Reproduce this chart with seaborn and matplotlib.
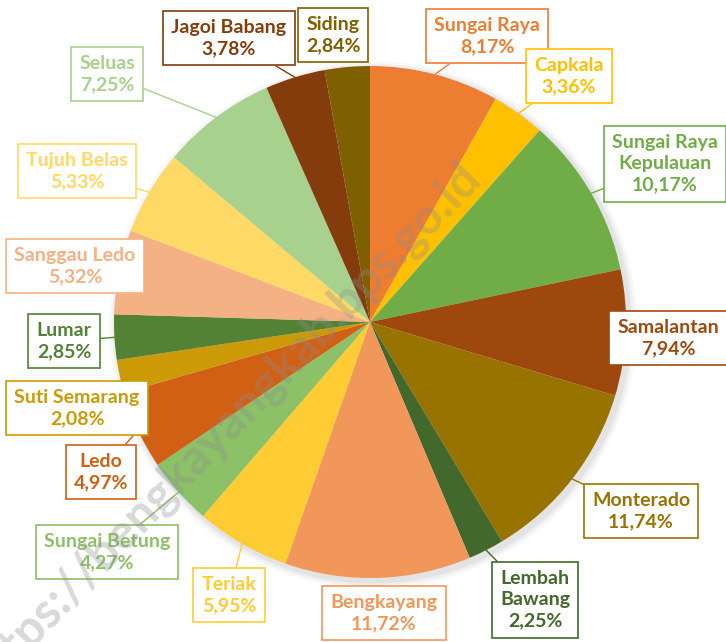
import numpy as np
import seaborn as sns
import matplotlib.pyplot as plt
from matplotlib.patches import Circle

# Data: share of each kecamatan (percent), clockwise from 12 o'clock
districts = ["Sungai Raya", "Capkala", "Sungai Raya\nKepulauan", "Samalantan",
             "Monterado", "Lembah\nBawang", "Bengkayang", "Teriak",
             "Sungai Betung", "Ledo", "Suti Semarang", "Lumar",
             "Sanggau Ledo", "Tujuh Belas", "Seluas", "Jagoi Babang", "Siding"]
shares = [8.17, 3.36, 10.17, 7.94, 11.74, 2.25, 11.72, 5.95,
          4.27, 4.97, 2.08, 2.85, 5.32, 5.33, 7.25, 3.78, 2.84]
colors = ["#ED7D31", "#FFC000", "#70AD47", "#9E480E", "#997300", "#43682B",
          "#F1975A", "#FFCD33", "#8CC168", "#D26014", "#CC9A06", "#548235",
          "#F4B183", "#FFD966", "#A9D18E", "#843C0C", "#7F6000"]

# label box centres in pixels (layout)
label_px = [(487, 36), (569, 76), (665, 164), (668, 338), (641, 511), (535, 600),
            (384, 613), (229, 595), (107, 552), (101, 472), (77, 408), (64, 341),
            (75, 266), (77, 171), (107, 74), (229, 38), (333, 35)]
no_pointer = {"Samalantan", "Siding", "Bengkayang", "Sanggau Ledo", "Suti Semarang"}

W, H = 726, 642
CX, CY, R = 370, 322, 256


def to_data(px, py):
    return (px - CX) / R, (CY - py) / R


sns.set_theme(style="white")
plt.rcParams["font.family"] = ["Lato", "DejaVu Sans"]

fig = plt.figure(figsize=(W / 100, H / 100), dpi=100)
ax = fig.add_axes([0, 0, 1, 1])

# soft shadow around the pie
for r, a in [(1.03, 0.05), (1.02, 0.07), (1.01, 0.10)]:
    ax.add_patch(Circle((0.012, -0.012), r, color="#7f7f7f", alpha=a, lw=0, zorder=0))

wedges, _ = ax.pie(shares, colors=colors, startangle=90, counterclock=False,
                   radius=1, wedgeprops=dict(linewidth=0))
for w in wedges:
    w.set_zorder(1)

ax.set_xlim(-CX / R, (W - CX) / R)
ax.set_ylim(-(H - CY) / R, CY / R)
ax.set_aspect("equal")
ax.axis("off")

cum = np.cumsum([0] + shares[:-1])
for name, val, start, col, (lx, ly) in zip(districts, shares, cum, colors, label_px):
    mid = np.deg2rad(90 - (start + val / 2) / 100 * 360)
    anchor = (np.cos(mid), np.sin(mid))
    txt = f"{name}\n{val:.2f}%".replace(".", ",")
    bbox = dict(boxstyle="square,pad=0.42", fc="white", ec=col, lw=1.2)
    key = name.replace("\n", " ")
    arrow = None if key in no_pointer else dict(arrowstyle="-", color=col, lw=1.0,
                                                 shrinkA=0, shrinkB=0)
    ax.annotate(txt, xy=anchor, xytext=to_data(lx, ly), ha="center", va="center",
                fontsize=14, fontweight="bold", color=col, linespacing=1.3,
                bbox=bbox, arrowprops=arrow, zorder=5)

# watermark
wx, wy = to_data(472, 170)
ax.text(wx, wy, "https://bengkayangkab.bps.go.id", rotation=46, rotation_mode="anchor",
        ha="right", va="center", fontsize=35, fontweight="bold", color="#8c8c8c",
        alpha=0.33, zorder=10)

fig.savefig("out.png", dpi=100, facecolor="white")
